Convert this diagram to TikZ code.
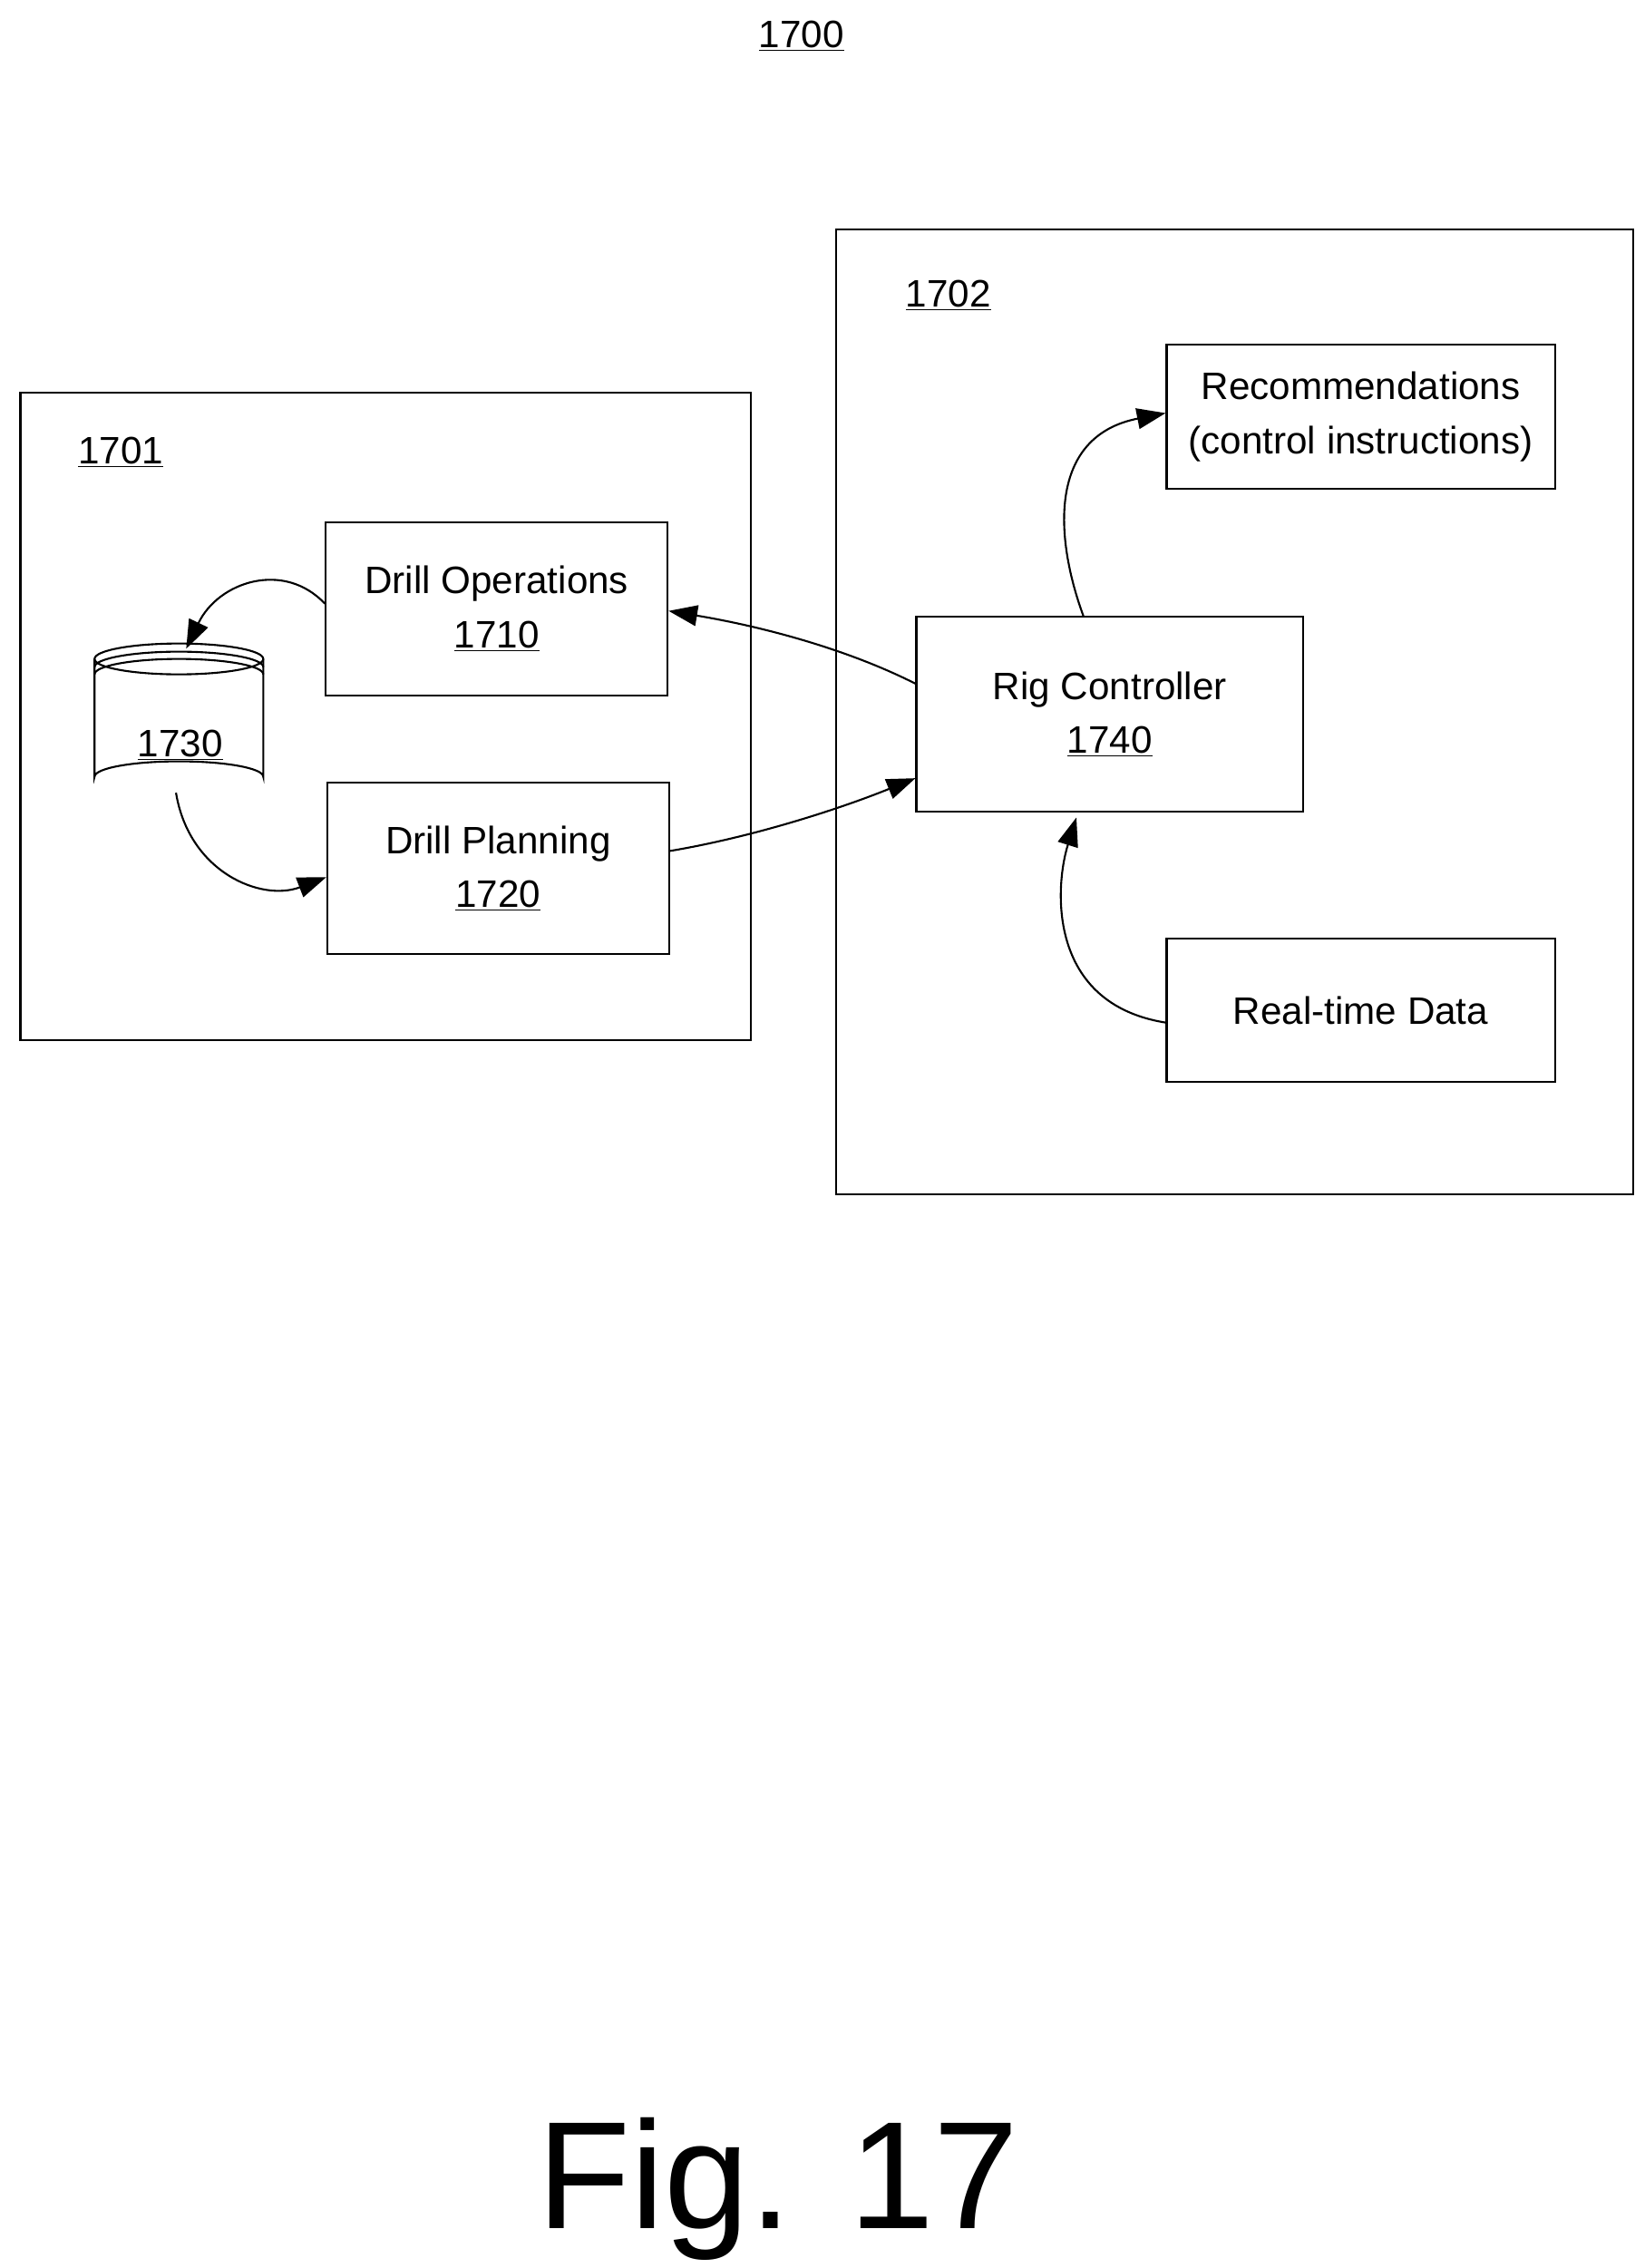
\documentclass[tikz,border=0pt]{standalone}
\usepackage{fontspec}
\setmainfont{Liberation Sans}
\usetikzlibrary{arrows.meta}
\begin{document}
\begin{tikzpicture}[x=0.03208cm,y=-0.03208cm,
  box/.style={draw,line width=1.2pt,rectangle},
  txt/.style={font=\fontsize{24}{30}\selectfont,align=center,inner sep=0pt},
  arr/.style={line width=1.2pt,-{Triangle[length=18pt,width=13pt]}}]
\useasboundingbox (0,0) rectangle (1130.3,1559.2);
\node[txt] (t1700) at (551,25) {\underline{1700}};
\draw[box] (14,270) rectangle (516,715);
\node[txt] (l1701) at (83,311) {\underline{1701}};
\draw[box] (575,158) rectangle (1123,821);
\node[txt] (l1702) at (652,203) {\underline{1702}};
\node[box,minimum width=235*0.03208cm,minimum height=119*0.03208cm,txt] (ops) at (341.5,418.5) {Drill Operations\\[4pt]\underline{1710}};
\node[box,minimum width=235*0.03208cm,minimum height=118*0.03208cm,txt] (plan) at (342.5,597) {Drill Planning\\[4pt]\underline{1720}};
\node[box,minimum width=267*0.03208cm,minimum height=99*0.03208cm,txt] (rec) at (935.5,286.5) {Recommendations\\[4pt](control instructions)};
\node[box,minimum width=266*0.03208cm,minimum height=134*0.03208cm,txt] (rig) at (763,491) {Rig Controller\\[4pt]\underline{1740}};
\node[box,minimum width=267*0.03208cm,minimum height=99*0.03208cm,txt] (rt) at (935.5,694.5) {Real-time Data};
% cylinder
\coordinate (cyl) at (123,495);
\draw[line width=1.2pt,fill=white] (65,453) -- (65,534) arc[start angle=180,end angle=360,x radius=58,y radius=10.6] -- (181,453);
\draw[line width=1.2pt] (123,453) ellipse[x radius=58,y radius=10.6];
\draw[line width=1.2pt] (65,458.6) arc[start angle=180,end angle=360,x radius=58,y radius=10.6];
\draw[line width=1.2pt] (65,463.6) arc[start angle=180,end angle=360,x radius=58,y radius=10.6];
\node[txt] (c1730) at (124,512) {\underline{1730}};
\coordinate (ctop) at (128,446);
\coordinate (cbot) at (121,545);
\draw[arr] (ops.west |- 0,415) .. controls (195,385) and (150,400) .. (ctop);
\draw[arr] (cbot) .. controls (130,600) and (180,620) .. (plan.west |- 0,603);
\draw[arr] (rig.west |- 0,470) .. controls (580,445) and (520,430) .. (ops.east |- 0,420);
\draw[arr] (plan.east |- 0,585) .. controls (520,575) and (580,555) .. (rig.west |- 0,535);
\draw[arr] (745,424) .. controls (725,370) and (720,300) .. (rec.west |- 0,284);
\draw[arr] (rt.west |- 0,703) .. controls (720,690) and (725,610) .. (740,562);
\node[font=\fontsize{96}{110}\selectfont,inner sep=0pt] (fig) at (535,1505) {Fig. 17};
\end{tikzpicture}
\end{document}
